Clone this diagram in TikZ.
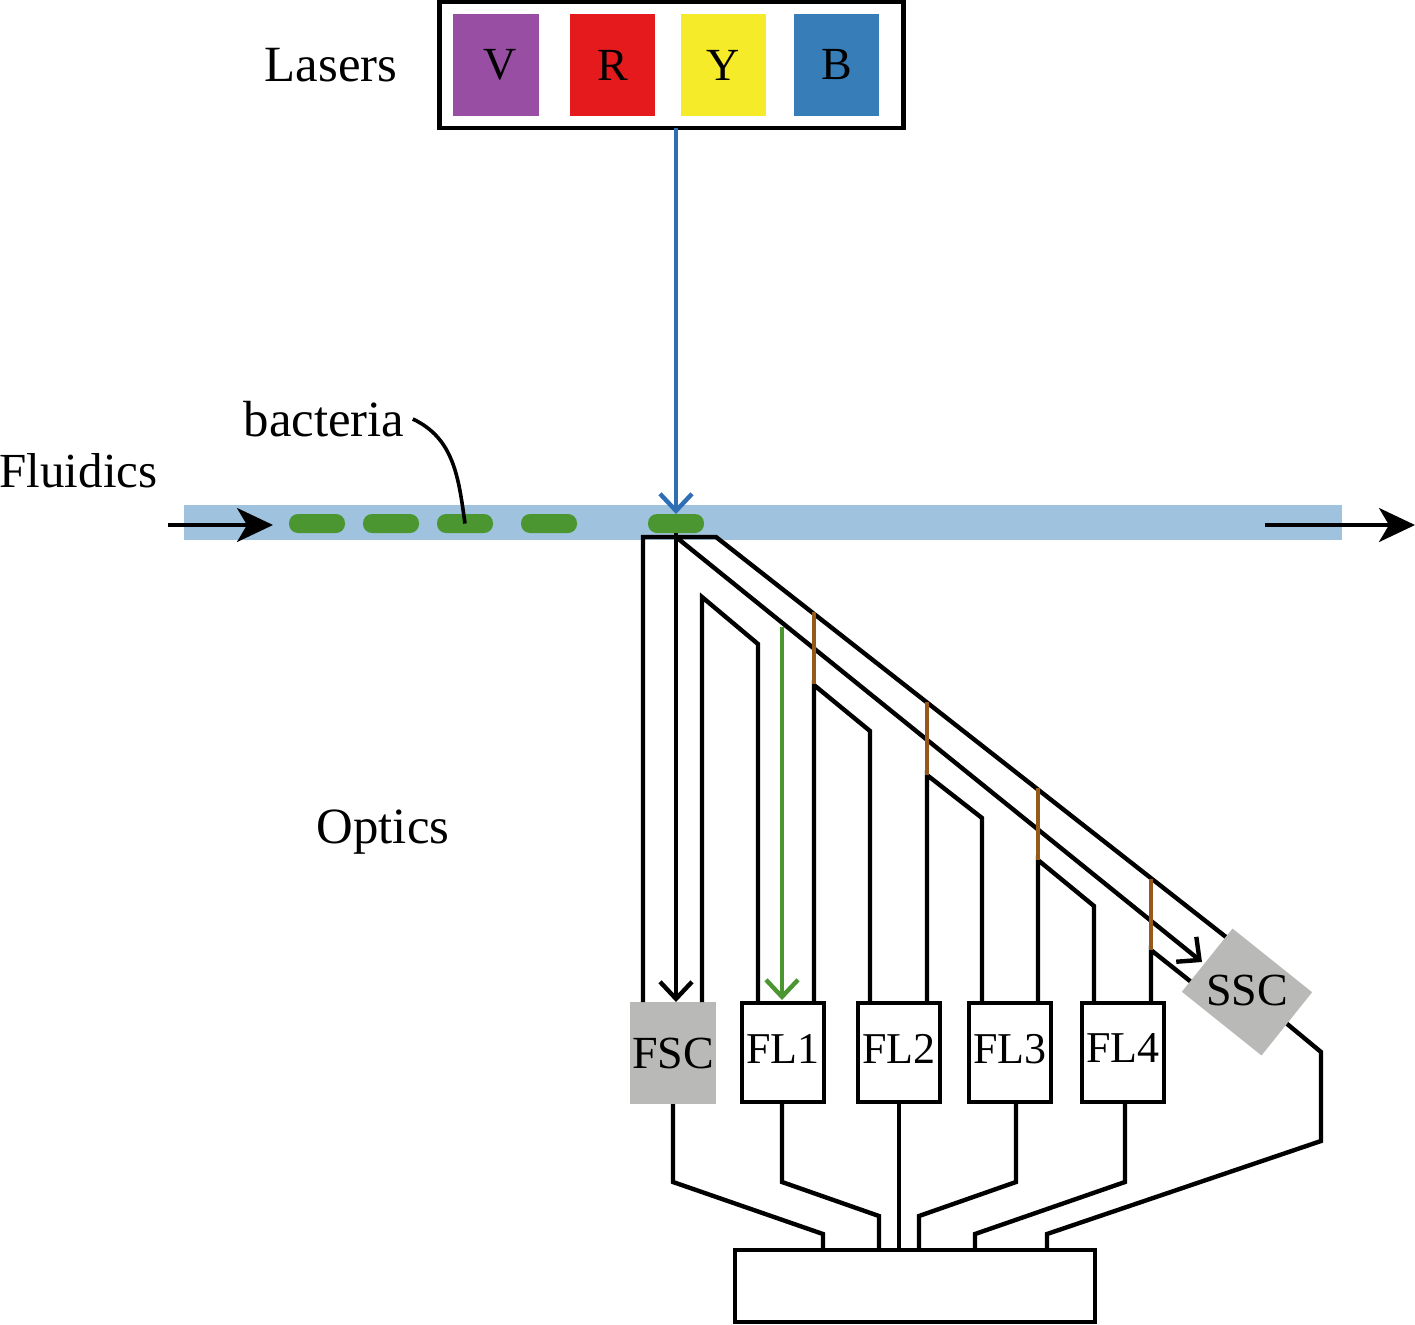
\documentclass[tikz,border=0pt]{standalone}
\usepackage{fontspec}
\setmainfont{Liberation Serif}
\usetikzlibrary{arrows.meta,positioning}

\definecolor{violetlaser}{HTML}{984EA3}
\definecolor{redlaser}{HTML}{E41A1C}
\definecolor{yellowlaser}{HTML}{F5EB28}
\definecolor{bluelaser}{HTML}{377EB8}
\definecolor{raybluish}{HTML}{2F6DB5}
\definecolor{flowblue}{HTML}{9FC3DE}
\definecolor{cellgreen}{HTML}{4C9632}
\definecolor{mirror}{HTML}{96591C}
\definecolor{sensorgray}{HTML}{B9B9B7}

\begin{document}
\begin{tikzpicture}[x=0.5pt,y=-0.5pt,
	swatch/.style={rectangle,inner sep=0pt,outer sep=0pt,minimum width=42.75pt,minimum height=51pt,font=\fontsize{23}{23}\selectfont},
	frame/.style={rectangle,draw,line width=2.2pt,inner sep=0pt,outer sep=0pt,minimum width=232pt,minimum height=63pt},
	channel/.style={rectangle,fill=flowblue,inner sep=0pt,outer sep=0pt,minimum width=579pt,minimum height=17.5pt},
	cell/.style={rectangle,fill=cellgreen,rounded corners=4.5pt,inner sep=0pt,outer sep=0pt,minimum width=28pt,minimum height=9.5pt},
	sensor/.style={rectangle,draw,line width=2.2pt,inner sep=0pt,outer sep=0pt,minimum width=41pt,minimum height=49.5pt,text depth=4pt,font=\fontsize{22}{22}\selectfont},
	graybox/.style={rectangle,fill=sensorgray,inner sep=0pt,outer sep=0pt},
	title/.style={inner sep=0pt,font=\fontsize{25.4}{25.4}\selectfont},
	beam/.style={line width=2.2pt,line join=miter},
	ray/.style={beam,-{Straight Barb[length=8.5pt,width=16pt,line width=2.2pt]}},
	flow/.style={line width=1.7pt,-{Stealth[length=18pt,width=17pt,inset=5pt]}}
	]
\useasboundingbox (0,0) rectangle (1415,1324);

\node[channel](pipe) at (763,522.5) {};
\node[frame](lasers) at (671.5,65) {};
\node[swatch,fill=violetlaser](v) at (496,65) {\hspace{4pt}V};
\node[swatch,fill=redlaser](r) [right = 15.5pt of v] {R};
\node[swatch,fill=yellowlaser](y) [right = 12.75pt of r] {Y};
\node[swatch,fill=bluelaser](b) [right = 13.75pt of y] {B};

\node[cell](c1) at (317,523.5) {};
\node[cell](c2) [right = 9pt of c1] {};
\node[cell](c3) [right = 9pt of c2] {};
\node[cell](c4) [right = 14pt of c3] {};
\node[cell](c5) [right = 35.5pt of c4] {};

\node[title](tlasers) at (331,65) {Lasers};
\node[title,font=\fontsize{24.5}{24.5}\selectfont](tfluid) at (78.5,471) {Fluidics};
\node[title](toptics) at (383,832) {Optics};
\node[title](tbact) at (324,419) {bacteria};

\node[graybox,minimum width=43pt,minimum height=51pt,font=\fontsize{23}{23}\selectfont](fsc) at (673,1053) {FSC};
\node[sensor](fl1) at (783,1052.5) {FL1};
\node[sensor](fl2) [right = 17pt of fl1] {FL2};
\node[sensor](fl3) [right = 14.5pt of fl2] {FL3};
\node[sensor](fl4) [right = 15.5pt of fl3] {FL4};
\node[rectangle,draw,line width=2.2pt,inner sep=0pt,outer sep=0pt,minimum width=180pt,minimum height=36pt](daq) at (915,1286) {};

% laser in, flow through
\draw[ray,raybluish] (lasers.south -| c5) -- (c5.north);
\draw[flow] (168,525) coordinate(fin) -- (273,525) coordinate(finend);
\draw[flow] (1265,525) coordinate(fout) -- (1415,525) coordinate(foutend);
\draw[line width=1.8pt] ([xshift=4pt]tbact.east) to[out=-25,in=98] (c3.center);

% forward path
\draw[beam] (fsc.north -| 643,0) -- (643,537) -- (716,537) -- (1226,937) coordinate(sscin);
\draw[ray] (c5.south) -- (fsc.north -| c5) ;
\draw[ray] (676,537) -- (1202,962) coordinate(sscray);
\draw[beam] (fsc.north -| 702,0) -- (702,597) -- (758,644) -- (fl1.north -| 758,0);

% filters
\draw[beam] (fl1.north -| 814,0) -- (814,685) -- (870,731) -- (fl2.north -| 870,0);
\draw[beam] (fl2.north -| 927,0) -- (927,775) -- (982,818) -- (fl3.north -| 982,0);
\draw[beam] (fl3.north -| 1038,0) -- (1038,860) -- (1094,906) -- (fl4.north -| 1094,0);
\draw[beam] (fl4.north -| 1151,0) -- (1151,950) -- (1195,985) coordinate(sscout);
\draw[beam,mirror] (814,612) coordinate(m1a) -- (814,684) coordinate(m1b);
\draw[beam,mirror] (927,702) coordinate(m2a) -- (927,775) coordinate(m2b);
\draw[beam,mirror] (1038,788) coordinate(m3a) -- (1038,860) coordinate(m3b);
\draw[beam,mirror] (1151,879) coordinate(m4a) -- (1151,950) coordinate(m4b);
\draw[ray,cellgreen] (782,627) coordinate(gr) -- (782,1000) coordinate(grend);

% ssc sits on top of the beams
\draw[beam] (1280,1018) coordinate(sscback) -- (1321,1052) -- (1321,1141) -- (1047,1234) -- (1047,1234 |- daq.north);
\node[graybox,rotate=-38.66,minimum width=51pt,minimum height=40.5pt](ssc) at (1247,992) {};
\node[inner sep=0pt,font=\fontsize{23}{23}\selectfont](tssc) at (1247,990) {SSC};

% to the electronics
\draw[beam] (fsc.south) -- (673,1182) -- (823,1234) -- (823,1234 |- daq.north);
\draw[beam] (fl1.south -| 782,0) -- (782,1182) -- (879,1216) -- (879,1216 |- daq.north);
\draw[beam] (fl2.south) -- (fl2.south |- daq.north);
\draw[beam] (fl3.south -| 1016,0) -- (1016,1182) -- (919,1216) -- (919,1216 |- daq.north);
\draw[beam] (fl4.south -| 1125,0) -- (1125,1182) -- (975,1234) -- (975,1234 |- daq.north);
\end{tikzpicture}
\end{document}
